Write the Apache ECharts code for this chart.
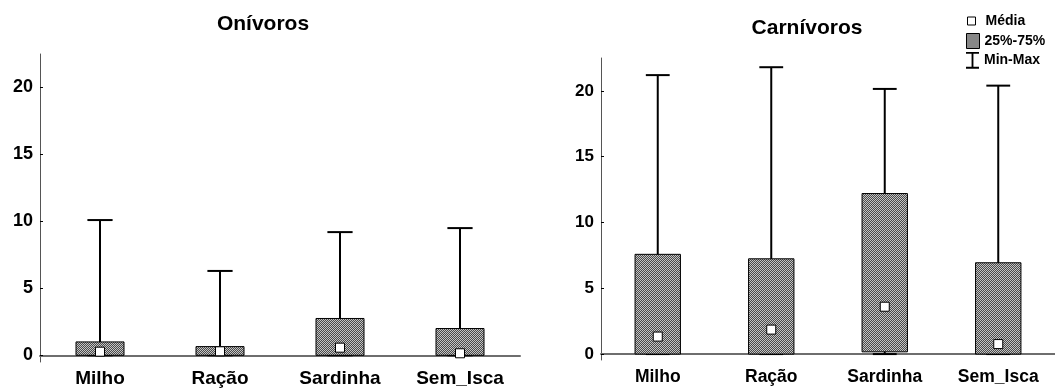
<!DOCTYPE html>
<html>
<head>
<meta charset="utf-8">
<script src="https://cdn.jsdelivr.net/npm/echarts@6/dist/echarts.min.js"></script>
<style>
html,body{margin:0;padding:0;background:#fff;}
#chart{width:1055px;height:392px;}
</style>
</head>
<body>
<div id="chart"></div>
<script>
const categories = ['Milho', 'Ração', 'Sardinha', 'Sem_Isca'];
const yTicks = [0, 5, 10, 15, 20];

// Onívoros
const oniMin  = [0, 0, 0, 0];
const oniQ1   = [0, 0, 0, 0];
const oniQ3   = [1.0, 0.65, 2.75, 2.0];
const oniMax  = [10.1, 6.3, 9.2, 9.5];
const oniMean = [0.27, 0.3, 0.57, 0.15];

// Carnívoros
const carMin  = [0, 0, 0, 0];
const carQ1   = [0, 0, 0.17, 0];
const carQ3   = [7.58, 7.24, 12.2, 6.94];
const carMax  = [21.2, 21.8, 20.15, 20.4];
const carMean = [1.33, 1.86, 3.6, 0.76];

// checkered fill pattern
const pc = document.createElement('canvas');
pc.width = 2; pc.height = 2;
const pctx = pc.getContext('2d');
pctx.fillStyle = '#4a4a4a'; pctx.fillRect(0, 0, 2, 2);
pctx.fillStyle = '#c4c4c4'; pctx.fillRect(0, 0, 1, 1); pctx.fillRect(1, 1, 1, 1);
const pattern = { image: pc, repeat: 'repeat' };

function whiskerData(mn, mx) { return categories.map((c, i) => [i, mn[i], mx[i]]); }
function boxData(q1, q3) { return categories.map((c, i) => [i, q1[i], q3[i]]); }
function meanData(m) { return categories.map((c, i) => [i, m[i]]); }

function renderWhisker(params, api) {
  const i = api.value(0);
  const pMin = api.coord([i, api.value(1)]);
  const pMax = api.coord([i, api.value(2)]);
  const band = api.size([1, 0])[0];
  const cap = band * 0.105;
  const st = { stroke: '#000', lineWidth: 2 };
  return {
    type: 'group',
    children: [
      { type: 'line', shape: { x1: pMin[0], y1: pMin[1], x2: pMax[0], y2: pMax[1] }, style: st },
      { type: 'line', shape: { x1: pMax[0] - cap, y1: pMax[1], x2: pMax[0] + cap, y2: pMax[1] }, style: st },
      { type: 'line', shape: { x1: pMin[0] - cap, y1: pMin[1], x2: pMin[0] + cap, y2: pMin[1] }, style: st }
    ]
  };
}
function renderBox(params, api) {
  const i = api.value(0);
  const p1 = api.coord([i, api.value(1)]);
  const p3 = api.coord([i, api.value(2)]);
  const band = api.size([1, 0])[0];
  const w = band * 0.4;
  return {
    type: 'rect',
    shape: { x: p1[0] - w / 2, y: p3[1], width: w, height: p1[1] - p3[1] },
    style: { fill: pattern, stroke: '#000', lineWidth: 1 }
  };
}

const FF = 'Liberation Sans, Arial, sans-serif';
function xAxisCfg(gi, fs, margin) {
  return {
    type: 'category', gridIndex: gi, data: categories, boundaryGap: true,
    axisLine: { lineStyle: { color: '#6e6e6e', width: 2 } },
    axisTick: { alignWithLabel: true, length: 3, lineStyle: { color: '#333' } },
    axisLabel: { color: '#000', fontWeight: 'bold', fontSize: fs, fontFamily: FF, margin: margin }
  };
}
function yAxisCfg(gi, mn, fs) {
  return {
    type: 'value', gridIndex: gi, min: mn, max: 22.5,
    splitLine: { show: false },
    axisLine: { show: true, lineStyle: { color: '#555', width: 1 } },
    axisTick: { show: true, inside: true, length: 3, customValues: yTicks, lineStyle: { color: '#000' } },
    axisLabel: { color: '#000', fontWeight: 'bold', fontSize: fs, fontFamily: FF, margin: 7, customValues: yTicks }
  };
}
const legText = { fontSize: 14, fontWeight: 'bold', color: '#000', fontFamily: FF };

const chart = echarts.init(document.getElementById('chart'), null, { renderer: 'canvas' });
chart.setOption({
  animation: false,
  backgroundColor: '#fff',
  title: [
    { text: 'Onívoros', left: 258, top: 9, textAlign: 'center',
      textStyle: { fontSize: 21, fontWeight: 'bold', color: '#000', fontFamily: FF } },
    { text: 'Carnívoros', left: 802, top: 13, textAlign: 'center',
      textStyle: { fontSize: 21, fontWeight: 'bold', color: '#000', fontFamily: FF } }
  ],
  legend: [
    { data: [{ name: 'Média', icon: 'rect', itemStyle: { color: '#fff', borderColor: '#000', borderWidth: 1 } }],
      left: 967, top: 14, itemWidth: 8, itemHeight: 8, selectedMode: false, padding: 0,
      textStyle: Object.assign({}, legText, { padding: [0, 0, 0, 5] }) },
    { data: [{ name: '25%-75%', icon: 'rect', itemStyle: { color: pattern, borderColor: '#000', borderWidth: 1 } }],
      left: 966, top: 33, itemWidth: 13, itemHeight: 15, selectedMode: false, padding: 0,
      textStyle: legText },
    { data: [{ name: 'Min-Max', icon: 'path://M0,0H14V2H8V16H14V18H0V16H6V2H0Z', itemStyle: { color: '#000' } }],
      left: 966, top: 52, itemWidth: 13, itemHeight: 17, selectedMode: false, padding: 0,
      textStyle: legText }
  ],
  grid: [
    { left: 40, right: 535, top: 54, bottom: 30 },
    { left: 601, right: -9, top: 58, bottom: 32 }
  ],
  xAxis: [xAxisCfg(0, 19, 7), xAxisCfg(1, 17.5, 8)],
  yAxis: [yAxisCfg(0, -0.5, 18), yAxisCfg(1, -0.45, 17)],
  series: [
    { name: 'Min-Max', type: 'custom', xAxisIndex: 0, yAxisIndex: 0, renderItem: renderWhisker,
      encode: { x: 0, y: [1, 2] }, data: whiskerData(oniMin, oniMax), z: 2 },
    { name: '25%-75%', type: 'custom', xAxisIndex: 0, yAxisIndex: 0, renderItem: renderBox,
      encode: { x: 0, y: [1, 2] }, data: boxData(oniQ1, oniQ3), z: 3 },
    { name: 'Média', type: 'scatter', xAxisIndex: 0, yAxisIndex: 0, symbol: 'rect', symbolSize: 9,
      itemStyle: { color: '#fff', borderColor: '#000', borderWidth: 1, opacity: 1 }, data: meanData(oniMean), z: 4 },
    { name: 'Min-Max', type: 'custom', xAxisIndex: 1, yAxisIndex: 1, renderItem: renderWhisker,
      encode: { x: 0, y: [1, 2] }, data: whiskerData(carMin, carMax), z: 2 },
    { name: '25%-75%', type: 'custom', xAxisIndex: 1, yAxisIndex: 1, renderItem: renderBox,
      encode: { x: 0, y: [1, 2] }, data: boxData(carQ1, carQ3), z: 3 },
    { name: 'Média', type: 'scatter', xAxisIndex: 1, yAxisIndex: 1, symbol: 'rect', symbolSize: 9,
      itemStyle: { color: '#fff', borderColor: '#000', borderWidth: 1, opacity: 1 }, data: meanData(carMean), z: 4 }
  ]
});
</script>
</body>
</html>
